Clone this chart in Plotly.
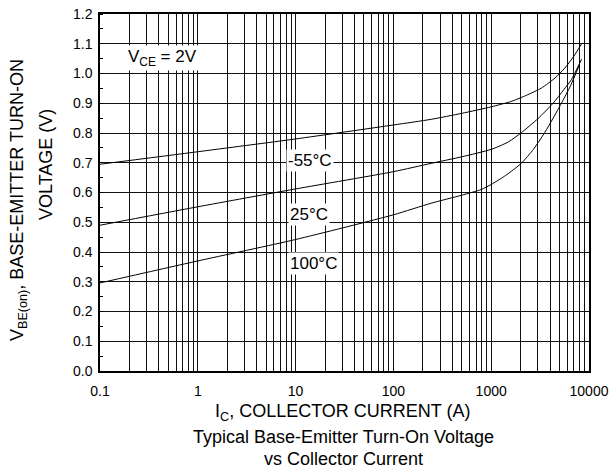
import plotly.graph_objects as go

# Data
ic_m55 = [0.1, 1, 10, 100, 243, 500, 1000, 1600, 2300, 3260, 4500, 5650, 7000, 8400]
vbe_m55 = [0.695, 0.737, 0.780, 0.827, 0.846, 0.866, 0.888, 0.906, 0.927, 0.951, 0.985, 1.018, 1.058, 1.10]

ic_25 = [0.1, 1, 10, 100, 243, 500, 1000, 1500, 2030, 3000, 4290, 5500, 6600, 8400]
vbe_25 = [0.49, 0.552, 0.612, 0.67, 0.698, 0.72, 0.745, 0.77, 0.801, 0.848, 0.90, 0.945, 0.979, 1.048]

ic_100 = [0.1, 1, 10, 100, 243, 500, 789, 1000, 1400, 2030, 2700, 3520, 4300, 5220, 6500, 8000]
vbe_100 = [0.296, 0.37, 0.442, 0.525, 0.564, 0.591, 0.610, 0.627, 0.657, 0.698, 0.745, 0.801, 0.85, 0.90, 0.96, 1.03]

series_names = ["-55°C", "25°C", "100°C"]

decades = [0.1, 1, 10, 100, 1000]
decade_labels = ["0.1", "1", "10", "100", "1000", "10000"]

x_tickvals = []
x_ticktext = []
for i, d in enumerate(decades):
    for m in range(1, 10):
        x_tickvals.append(round(d * m, 6))
        x_ticktext.append(decade_labels[i] if m == 1 else "")
x_tickvals.append(10000)
x_ticktext.append(decade_labels[-1])

FONT = "Liberation Sans, Arial, sans-serif"

# plot area in page pixels: x 100..589, y 14..371
W, H = 610, 472

fig = go.Figure()
for xs, ys, nm in [(ic_m55, vbe_m55, series_names[0]),
                   (ic_25, vbe_25, series_names[1]),
                   (ic_100, vbe_100, series_names[2])]:
    fig.add_trace(go.Scatter(x=xs, y=ys, mode="lines", name=nm,
                             line=dict(color="black", width=1, shape="spline", smoothing=0.6),
                             showlegend=False, hoverinfo="skip"))

fig.update_layout(
    width=W, height=H,
    margin=dict(l=100, r=W - 589, t=14, b=H - 371, autoexpand=False),
    paper_bgcolor="white", plot_bgcolor="white",
    font=dict(family=FONT, size=14, color="black"),
    xaxis=dict(type="log", range=[-1, 4], tickvals=x_tickvals, ticktext=x_ticktext,
               showgrid=True, gridcolor="#111", gridwidth=1,
               showline=True, linecolor="black", linewidth=1.5, mirror=True,
               ticks="outside", ticklen=6, tickcolor="rgba(0,0,0,0)",
               tickfont=dict(size=14), zeroline=False, automargin=False,
               ticklabeloverflow="allow"),
    yaxis=dict(range=[0, 1.2], dtick=0.1, tick0=0, tickformat=".1f",
               showgrid=True, gridcolor="#111", gridwidth=1,
               showline=True, linecolor="black", linewidth=1.5, mirror=True,
               ticks="outside", ticklen=3, tickcolor="rgba(0,0,0,0)",
               tickfont=dict(size=14), zeroline=False, automargin=False,
               ticklabeloverflow="allow",
               minor=dict(dtick=0.05, ticks="inside", ticklen=3, tickcolor="black",
                          tickwidth=1, showgrid=False)),
)

def px(xp):
    return (xp - 100) / 489.0

def py(yp):
    return (371 - yp) / 357.0

annos = [
    dict(text="V<sub>CE</sub> = 2V", x=px(162), y=py(58)),
    dict(text=series_names[0], x=px(310), y=py(160)),
    dict(text=series_names[1], x=px(309), y=py(214)),
    dict(text=series_names[2], x=px(313), y=py(263)),
]
for a in annos:
    fig.add_annotation(text=a["text"], x=a["x"], y=a["y"], xref="paper", yref="paper",
                       showarrow=False, bgcolor="white", borderpad=1,
                       font=dict(family=FONT, size=17, color="black"),
                       xanchor="center", yanchor="middle")

fig.add_annotation(text="V<sub>BE(on)</sub>, BASE-EMITTER TURN-ON",
                   x=px(19), y=py(200), xref="paper", yref="paper", textangle=-90,
                   showarrow=False, font=dict(family=FONT, size=18, color="black"),
                   xanchor="center", yanchor="middle")
fig.add_annotation(text="VOLTAGE (V)",
                   x=px(46), y=py(165), xref="paper", yref="paper", textangle=-90,
                   showarrow=False, font=dict(family=FONT, size=18, color="black"),
                   xanchor="center", yanchor="middle")
fig.add_annotation(text="I<sub>C</sub>, COLLECTOR CURRENT (A)",
                   x=px(343), y=py(412), xref="paper", yref="paper",
                   showarrow=False, font=dict(family=FONT, size=18, color="black"),
                   xanchor="center", yanchor="middle")
fig.add_annotation(text="Typical Base-Emitter Turn-On Voltage",
                   x=px(343), y=py(437), xref="paper", yref="paper",
                   showarrow=False, font=dict(family=FONT, size=18, color="black"),
                   xanchor="center", yanchor="middle")
fig.add_annotation(text="vs Collector Current",
                   x=px(343), y=py(459), xref="paper", yref="paper",
                   showarrow=False, font=dict(family=FONT, size=18, color="black"),
                   xanchor="center", yanchor="middle")

fig.write_html("out.html", config={"displayModeBar": False},
               post_script="document.body.style.margin='0';document.body.style.overflow='hidden';")
